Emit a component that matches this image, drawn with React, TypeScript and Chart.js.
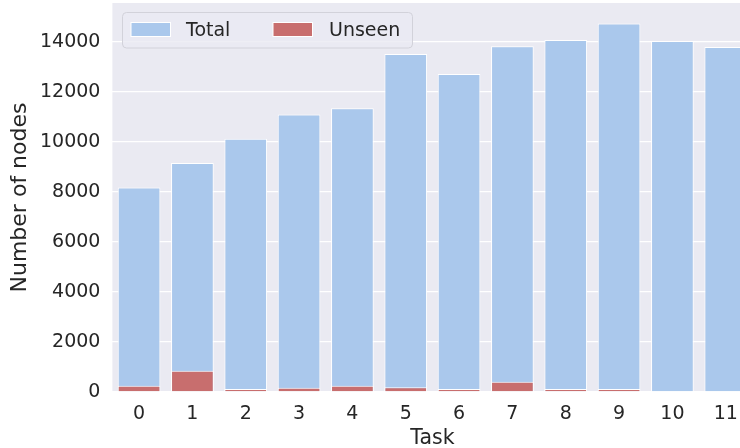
import React, { useEffect, useRef } from "react";
import { Chart, registerables } from "chart.js";

Chart.register(...registerables);

const categories = ["0", "1", "2", "3", "4", "5", "6", "7", "8", "9", "10", "11"];
const totalValues = [8170, 9150, 10120, 11090, 11340, 13510, 12710, 13820, 14070, 14730, 14030, 13790];
const unseenValues = [250, 850, 120, 170, 250, 190, 120, 410, 120, 120, 0, 0];
const yTickValues = [0, 2000, 4000, 6000, 8000, 10000, 12000, 14000];
const yMax = 15550;
const seriesNames = ["Total", "Unseen"];

const TEXT = "#262626";
const FONT = "'DejaVu Sans', sans-serif";

const bgPlugin = {
  id: "plotBg",
  beforeDraw(chart: any) {
    const { ctx, chartArea } = chart;
    ctx.save();
    ctx.fillStyle = "#EAEAF2";
    ctx.fillRect(chartArea.left, chartArea.top, chartArea.right - chartArea.left, chartArea.bottom - chartArea.top);
    ctx.restore();
  },
};

const legendPlugin = {
  id: "boxLegend",
  afterDraw(chart: any) {
    const { ctx } = chart;
    ctx.save();
    ctx.beginPath();
    (ctx as any).roundRect(122.5, 12.5, 290, 35.5, 4);
    ctx.fillStyle = "rgba(234,234,242,0.8)";
    ctx.fill();
    ctx.strokeStyle = "#D2D2DA";
    ctx.lineWidth = 1;
    ctx.stroke();
    const swatchX = [131, 273];
    const textX = [186, 329];
    chart.data.datasets.forEach((ds: any, i: number) => {
      ctx.fillStyle = ds.backgroundColor;
      ctx.fillRect(swatchX[i], 22.5, 39.5, 14);
      ctx.strokeStyle = "#FFFFFF";
      ctx.lineWidth = 1;
      ctx.strokeRect(swatchX[i], 22.5, 39.5, 14);
      ctx.fillStyle = TEXT;
      ctx.font = `19px ${FONT}`;
      ctx.textBaseline = "alphabetic";
      ctx.textAlign = "left";
      ctx.fillText(ds.label, textX[i], 36);
    });
    ctx.restore();
  },
};

export default function App() {
  const ref = useRef<HTMLCanvasElement | null>(null);

  useEffect(() => {
    if (!ref.current) return;
    const chart = new Chart(ref.current, {
      type: "bar",
      data: {
        labels: categories,
        datasets: [
          {
            label: seriesNames[0],
            data: totalValues,
            backgroundColor: "#AAC8EC",
            borderColor: "#FFFFFF",
            borderWidth: 1,
            grouped: false,
            order: 2,
            barPercentage: 0.8,
            categoryPercentage: 1,
          },
          {
            label: seriesNames[1],
            data: unseenValues,
            backgroundColor: "#C86E6E",
            borderColor: "#FFFFFF",
            borderWidth: 1,
            grouped: false,
            order: 1,
            barPercentage: 0.8,
            categoryPercentage: 1,
          },
        ],
      },
      options: {
        responsive: false,
        animation: false,
        layout: { padding: { left: 0, top: 3, right: 7.6, bottom: 0 } },
        plugins: {
          legend: { display: false },
          tooltip: { enabled: false },
        },
        scales: {
          x: {
            grid: { display: false },
            border: { display: false },
            ticks: { color: TEXT, font: { family: FONT, size: 19 }, padding: 3 },
            title: {
              display: true,
              text: "Task",
              color: TEXT,
              font: { family: FONT, size: 20.5 },
              padding: { top: 0, bottom: -3 },
            },
            afterFit(scale: any) {
              scale.height = 56;
              scale.paddingLeft = 0;
              scale.paddingRight = 0;
            },
          },
          y: {
            min: 0,
            max: yMax,
            grid: { color: "#FFFFFF", lineWidth: 1.3, drawTicks: false },
            border: { display: false },
            ticks: {
              color: TEXT,
              font: { family: FONT, size: 19 },
              padding: 12,
              callback: (v: any) => String(v),
            },
            title: {
              display: true,
              text: "Number of nodes",
              color: TEXT,
              font: { family: FONT, size: 22 },
              padding: { top: 7, bottom: 0 },
            },
            afterBuildTicks(scale: any) {
              scale.ticks = yTickValues.map((v) => ({ value: v }));
            },
            afterFit(scale: any) {
              scale.width = 112.4;
              scale.paddingTop = 0;
              scale.paddingBottom = 0;
            },
          },
        },
      },
      plugins: [bgPlugin, legendPlugin],
    });
    return () => chart.destroy();
  }, []);

  return (
    <div style={{ position: "fixed", left: 0, top: 0, width: 740, height: 448, overflow: "hidden", background: "#FFFFFF" }}>
      <canvas ref={ref} width={760} height={448} style={{ display: "block" }} />
    </div>
  );
}
